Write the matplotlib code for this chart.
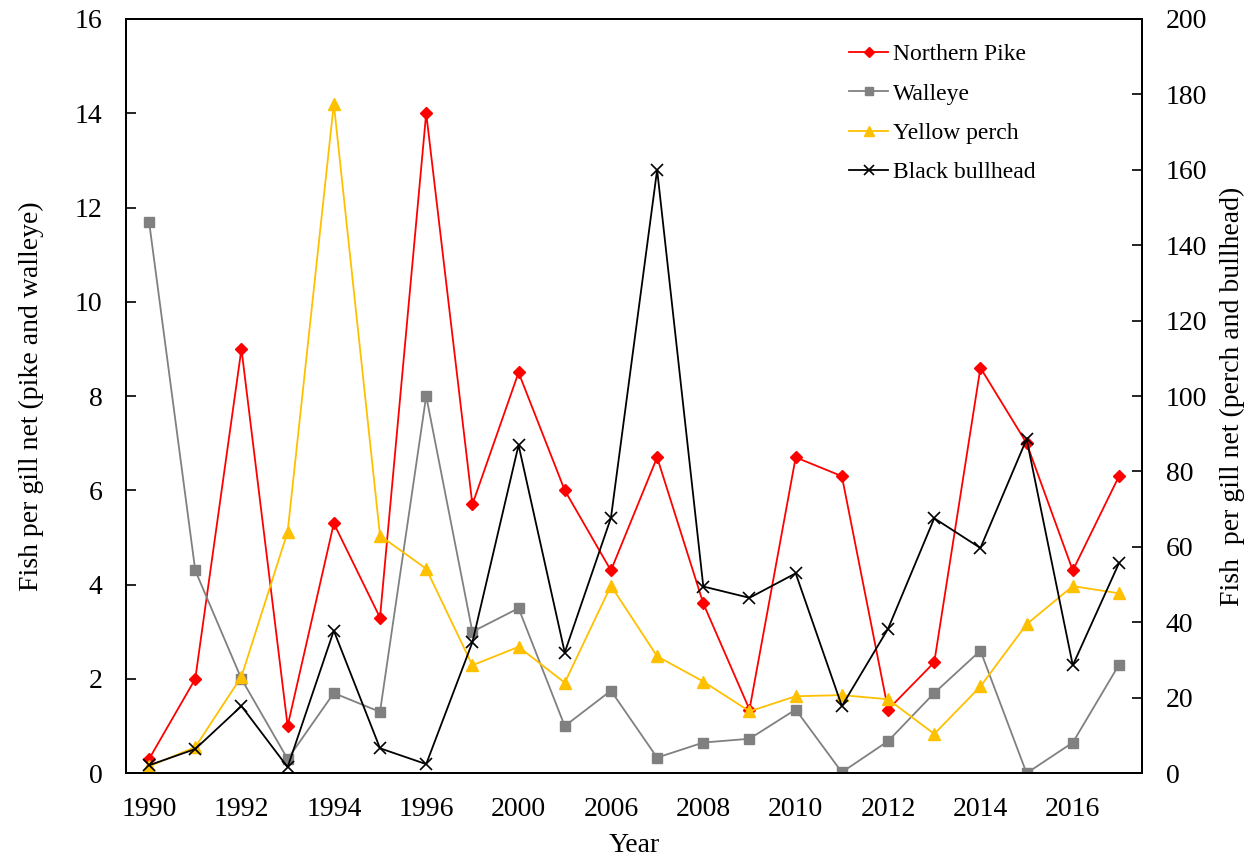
import matplotlib.pyplot as plt

years = ["1990", "1991", "1992", "1993", "1994", "1995", "1996", "1997", "2000", "2003",
         "2006", "2007", "2008", "2009", "2010", "2011", "2012", "2013", "2014", "2015",
         "2016", "2017"]
pike = [0.3, 2.0, 9.0, 1.0, 5.3, 3.3, 14.0, 5.7, 8.5, 6.0, 4.3, 6.7, 3.6, 1.35, 6.7, 6.3,
        1.35, 2.35, 8.6, 7.0, 4.3, 6.3]
walleye = [11.7, 4.3, 2.0, 0.3, 1.7, 1.3, 8.0, 3.0, 3.5, 1.0, 1.75, 0.33, 0.65, 0.73, 1.35, 0.02,
           0.68, 1.7, 2.6, 0.0, 0.65, 2.3]
perch = [1.8, 6.9, 25.6, 64.0, 177.5, 63.0, 54.2, 28.6, 33.5, 24.0, 49.7, 31.0, 24.3, 16.4,
         20.4, 20.7, 19.6, 10.4, 23.0, 39.5, 49.6, 47.7]
bullhead = [2.1, 6.4, 17.8, 1.6, 37.8, 6.6, 2.4, 34.7, 87.0, 32.0, 67.7, 160.0, 49.5, 46.5,
            53.0, 17.8, 38.3, 67.6, 59.7, 88.6, 28.6, 55.7]

plt.rcParams['font.family'] = ['Liberation Serif', 'DejaVu Serif']

fig = plt.figure(figsize=(12.56, 8.61), dpi=100)
ax = fig.add_axes([0.1003, 0.102, 0.809, 0.876])
ax2 = ax.twinx()

x = list(range(len(years)))
lw = 1.3
l1, = ax.plot(x, pike, color='#FF0000', marker='D', markersize=6, lw=lw, label='Northern Pike')
l2, = ax.plot(x, walleye, color='#808080', marker='s', markersize=7, lw=lw, label='Walleye')
l3, = ax2.plot(x, perch, color='#FFC000', marker='^', markersize=8, lw=lw, label='Yellow perch')
l4, = ax2.plot(x, bullhead, color='black', marker='x', markersize=9, mew=1.2, lw=lw,
               label='Black bullhead')

ax.set_xlim(-0.5, len(years) - 0.5)
ax.set_ylim(0, 16)
ax2.set_ylim(0, 200)
ax.set_yticks(range(0, 17, 2))
ax2.set_yticks(range(0, 201, 20))
ax.set_xticks(x[::2])
ax.set_xticklabels(years[::2])

ax.tick_params(axis='x', length=0, labelsize=20, pad=17)
ax.tick_params(axis='y', direction='in', length=7, width=1.2, labelsize=20, pad=17)
ax2.tick_params(axis='y', direction='in', length=7, width=1.2, labelsize=20, pad=17)
for a in (ax, ax2):
    for s in a.spines.values():
        s.set_linewidth(1.4)

ax.set_xlabel('Year', fontsize=20, labelpad=8)
ax.set_ylabel('Fish per gill net (pike and walleye)', fontsize=20, labelpad=22)
ax2.set_ylabel('Fish  per gill net (perch and bullhead)', fontsize=20, labelpad=9)

ax2.legend(handles=[l1, l2, l3, l4], loc='upper left', bbox_to_anchor=(0.712, 0.967),
           frameon=False, fontsize=17, handlelength=1.65, handletextpad=0.2,
           labelspacing=0.75, borderaxespad=0, borderpad=0, markerscale=0.85)

plt.savefig('out.png', dpi=100)
